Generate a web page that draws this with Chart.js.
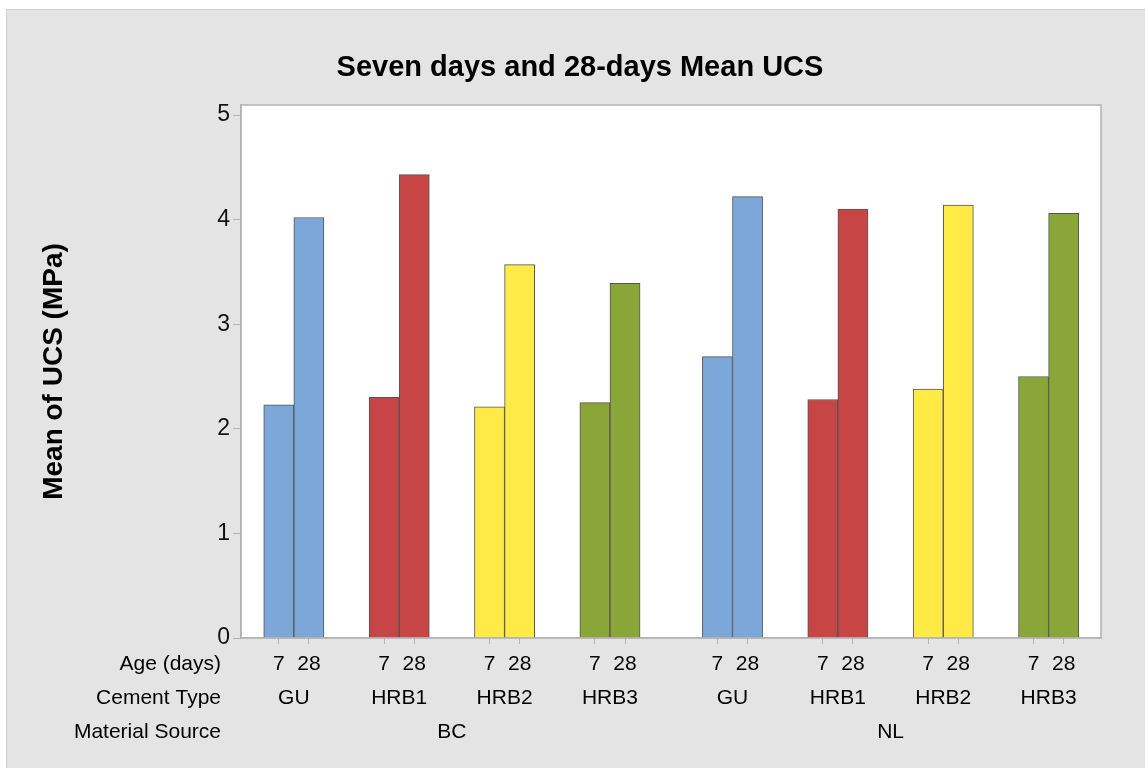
<!DOCTYPE html>
<html>
<head>
<meta charset="utf-8">
<title>Seven days and 28-days Mean UCS</title>
<script src="https://cdn.jsdelivr.net/npm/chart.js@4/dist/chart.umd.min.js"></script>
<style>
  html, body { margin: 0; padding: 0; background: #ffffff; }
  #wrap { width: 1145px; height: 768px; }
</style>
</head>
<body>
<div id="wrap"><canvas id="ucsChart" width="1145" height="768"></canvas></div>
<script>
// Datos (MPa)
const sources = ['BC', 'NL'];
const cementTypes = ['GU', 'HRB1', 'HRB2', 'HRB3'];
const ages = ['7', '28'];
const ucs7 = [2.23, 2.30, 2.21, 2.25, 2.69, 2.28, 2.38, 2.50];   // BC GU..HRB3, NL GU..HRB3
const ucs28 = [4.02, 4.43, 3.57, 3.39, 4.22, 4.10, 4.14, 4.06];
const yTicks = [0, 1, 2, 3, 4, 5];
const cementColors = ['#7BA7D9', '#C84545', '#FFEA46', '#8AA538'];

// Posición de cada barra en el eje x (unidades = ancho de barra)
const pairPitch = 3.5;
const sourcePitch = 3 * pairPitch + 4.07;

const bars = [];
sources.forEach((src, s) => {
    cementTypes.forEach((ct, c) => {
        const i = s * cementTypes.length + c;
        [ucs7[i], ucs28[i]].forEach((v, a) => {
            bars.push({
                x: s * sourcePitch + c * pairPitch + a,
                y: v,
                age: ages[a],
                color: cementColors[c]
            });
        });
    });
});

const FONT = '"Liberation Sans", Arial, Helvetica, sans-serif';

// Fondo gris, área de gráfico blanca y marco
const backgroundPlugin = {
    id: 'background',
    beforeDraw(chart) {
        const { ctx, width, height, chartArea: a } = chart;
        ctx.save();
        ctx.fillStyle = '#ffffff';
        ctx.fillRect(0, 0, width, height);
        ctx.fillStyle = '#E4E4E4';
        ctx.fillRect(6, 9, width - 6, height - 9);
        ctx.strokeStyle = '#CFCFCF';
        ctx.lineWidth = 1;
        ctx.strokeRect(6.5, 9.5, width, height);
        ctx.fillStyle = '#ffffff';
        ctx.fillRect(a.left, a.top, a.right - a.left, a.bottom - a.top);
        ctx.restore();
    },
    afterDraw(chart) {
        const { ctx, chartArea: a } = chart;
        ctx.save();
        ctx.strokeStyle = '#B3B3B3';
        ctx.lineWidth = 1.5;
        ctx.strokeRect(a.left, a.top, a.right - a.left, a.bottom - a.top);
        ctx.restore();
    }
};

// Título y etiquetas de las tres filas del eje x
const labelsPlugin = {
    id: 'rowLabels',
    afterDraw(chart) {
        const { ctx, chartArea: a } = chart;
        const xs = chart.scales.x;
        ctx.save();
        ctx.fillStyle = '#000000';
        ctx.textBaseline = 'alphabetic';

        ctx.font = 'bold 29px ' + FONT;
        ctx.textAlign = 'center';
        ctx.fillText('Seven days and 28-days Mean UCS', 580, 76);

        ctx.font = '21px ' + FONT;
        const rowY = [a.bottom + 32, a.bottom + 66, a.bottom + 100];

        ctx.textAlign = 'right';
        ctx.fillText('Age (days)', a.left - 20, rowY[0]);
        ctx.fillText('Cement Type', a.left - 20, rowY[1]);
        ctx.fillText('Material Source', a.left - 20, rowY[2]);

        ctx.textAlign = 'center';
        bars.forEach(b => ctx.fillText(b.age, xs.getPixelForValue(b.x), rowY[0]));
        for (let i = 0; i < bars.length; i += 2) {
            const ct = cementTypes[(i / 2) % cementTypes.length];
            const mid = (xs.getPixelForValue(bars[i].x) + xs.getPixelForValue(bars[i + 1].x)) / 2;
            ctx.fillText(ct, mid, rowY[1]);
        }
        const perSource = bars.length / sources.length;
        sources.forEach((src, s) => {
            const first = xs.getPixelForValue(bars[s * perSource].x);
            const last = xs.getPixelForValue(bars[(s + 1) * perSource - 1].x);
            ctx.fillText(src, (first + last) / 2, rowY[2]);
        });
        ctx.restore();
    }
};

const ctx = document.getElementById('ucsChart').getContext('2d');
const ucsChart = new Chart(ctx, {
    type: 'bar',
    data: {
        datasets: [{
            label: 'Mean of UCS (MPa)',
            data: bars,
            backgroundColor: bars.map(b => b.color),
            borderColor: '#555555',
            borderWidth: 1,
            categoryPercentage: 1,
            barPercentage: 1
        }]
    },
    options: {
        responsive: false,
        maintainAspectRatio: false,
        animation: false,
        layout: { padding: { top: 105, left: 0, right: 44, bottom: 0 } },
        plugins: {
            legend: { display: false },
            tooltip: { enabled: false },
            title: { display: false }
        },
        scales: {
            x: {
                type: 'linear',
                offset: false,
                min: -1.255,
                max: 2 * sourcePitch - 1.83,
                afterBuildTicks: s => { s.ticks = bars.map(b => ({ value: b.x })); },
                afterFit: s => { s.height = 130; },
                ticks: { display: false },
                grid: { drawOnChartArea: false, drawTicks: true, tickLength: 6, color: '#B3B3B3', offset: false },
                border: { color: '#B3B3B3', width: 1.5 }
            },
            y: {
                min: 0,
                max: 5.096,
                afterBuildTicks: s => { s.ticks = yTicks.map(v => ({ value: v })); },
                afterFit: s => { s.width = 241; },
                ticks: {
                    padding: 3,
                    color: '#111111',
                    font: { family: FONT, size: 23 }
                },
                grid: { drawOnChartArea: false, drawTicks: true, tickLength: 8, color: '#B3B3B3' },
                border: { color: '#B3B3B3', width: 1.5 },
                title: {
                    display: true,
                    text: 'Mean of UCS (MPa)',
                    color: '#000000',
                    font: { family: FONT, size: 28, weight: 'bold' },
                    padding: { top: 37, bottom: 0 }
                }
            }
        }
    },
    plugins: [backgroundPlugin, labelsPlugin]
});
</script>
</body>
</html>
